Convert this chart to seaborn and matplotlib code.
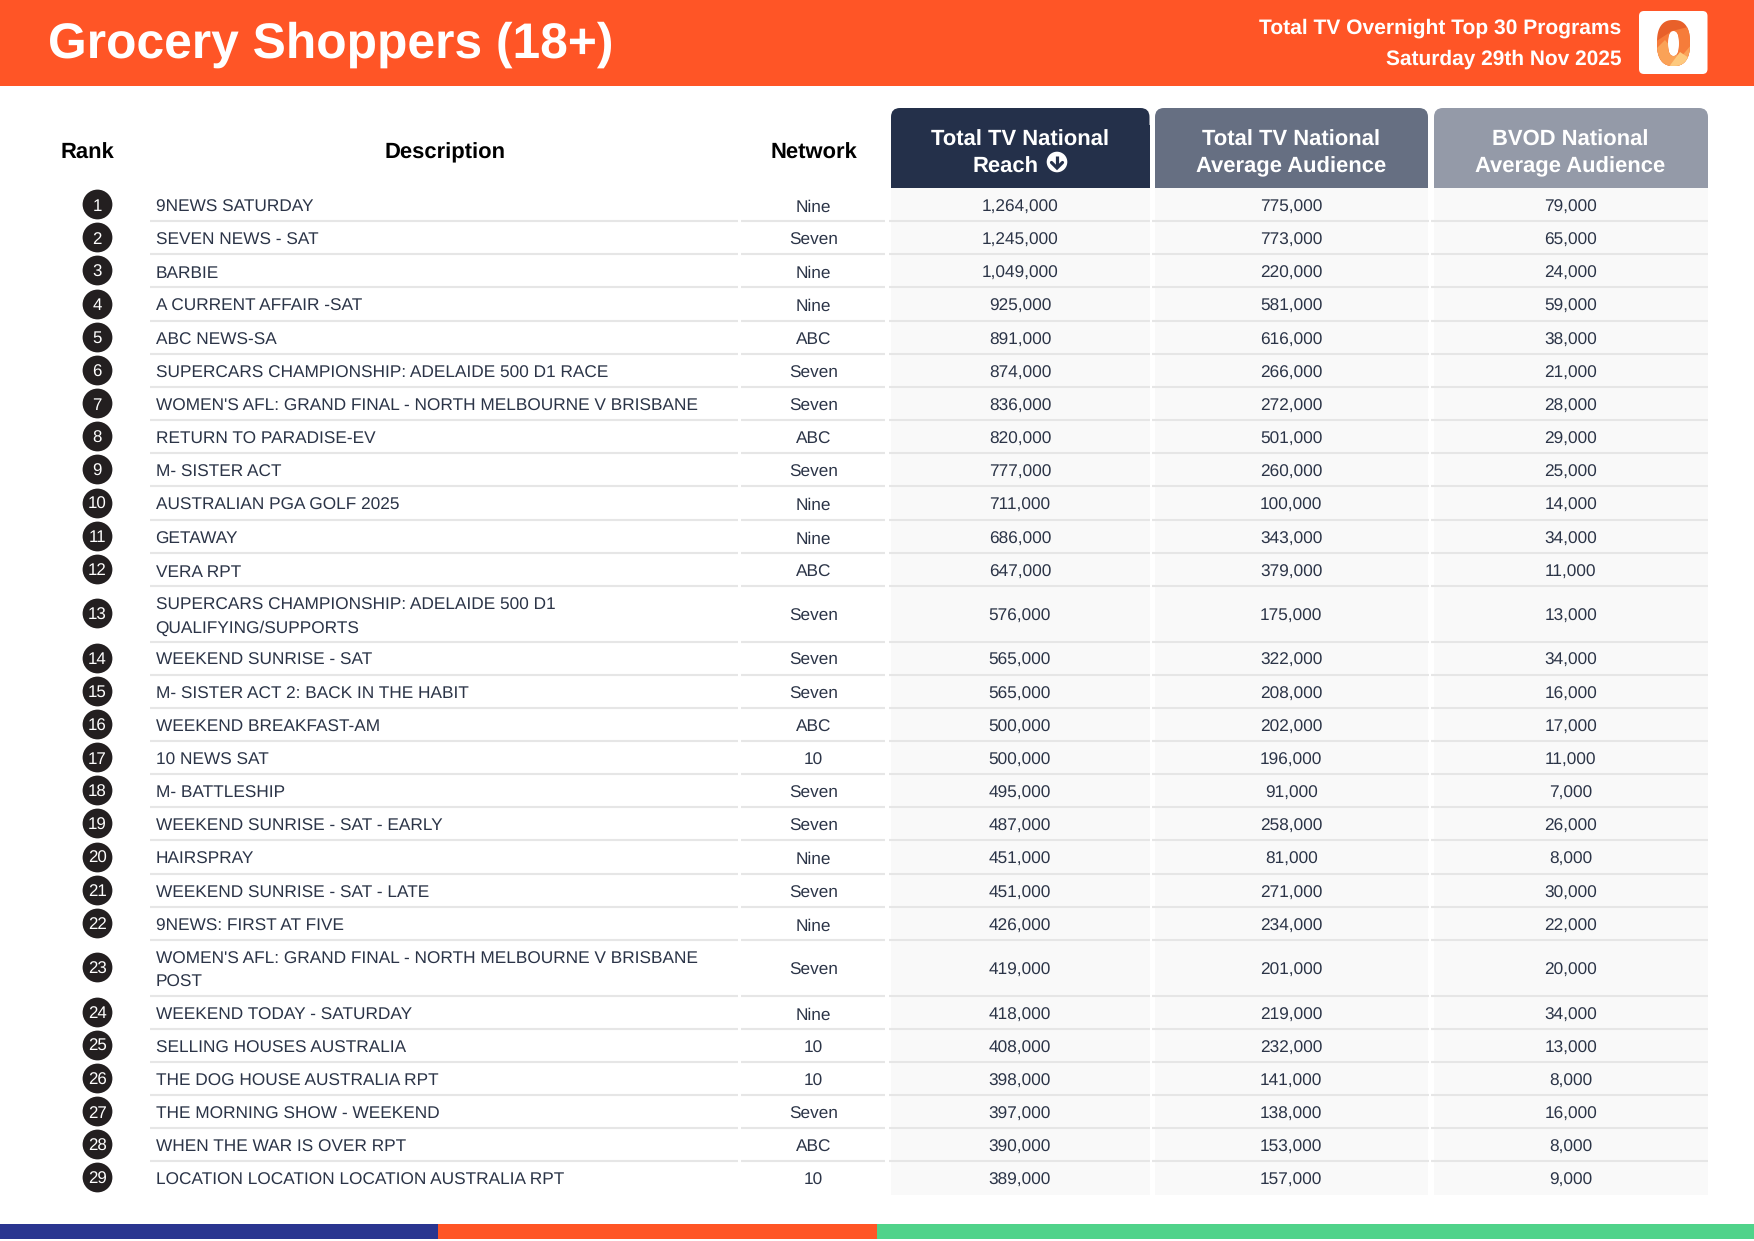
import numpy as np
import pandas as pd
import matplotlib
matplotlib.use('Agg')
import matplotlib.pyplot as plt
from matplotlib.patches import Circle, FancyBboxPatch, PathPatch, Polygon, Rectangle
from matplotlib.path import Path
import seaborn as sns

# ---- Data ----
descriptions = [
    "9NEWS SATURDAY", "SEVEN NEWS - SAT", "BARBIE", "A CURRENT AFFAIR -SAT", "ABC NEWS-SA",
    "SUPERCARS CHAMPIONSHIP: ADELAIDE 500 D1 RACE",
    "WOMEN'S AFL: GRAND FINAL - NORTH MELBOURNE V BRISBANE",
    "RETURN TO PARADISE-EV", "M- SISTER ACT", "AUSTRALIAN PGA GOLF 2025", "GETAWAY", "VERA RPT",
    "SUPERCARS CHAMPIONSHIP: ADELAIDE 500 D1\nQUALIFYING/SUPPORTS",
    "WEEKEND SUNRISE - SAT", "M- SISTER ACT 2: BACK IN THE HABIT", "WEEKEND BREAKFAST-AM",
    "10 NEWS SAT", "M- BATTLESHIP", "WEEKEND SUNRISE - SAT - EARLY", "HAIRSPRAY",
    "WEEKEND SUNRISE - SAT - LATE", "9NEWS: FIRST AT FIVE",
    "WOMEN'S AFL: GRAND FINAL - NORTH MELBOURNE V BRISBANE\nPOST",
    "WEEKEND TODAY - SATURDAY", "SELLING HOUSES AUSTRALIA", "THE DOG HOUSE AUSTRALIA RPT",
    "THE MORNING SHOW - WEEKEND", "WHEN THE WAR IS OVER RPT", "LOCATION LOCATION LOCATION AUSTRALIA RPT",
]
networks = [
    "Nine", "Seven", "Nine", "Nine", "ABC", "Seven", "Seven", "ABC", "Seven", "Nine", "Nine", "ABC",
    "Seven", "Seven", "Seven", "ABC", "10", "Seven", "Seven", "Nine", "Seven", "Nine", "Seven",
    "Nine", "10", "10", "Seven", "ABC", "10",
]
reach = [
    1264000, 1245000, 1049000, 925000, 891000, 874000, 836000, 820000, 777000, 711000, 686000, 647000,
    576000, 565000, 565000, 500000, 500000, 495000, 487000, 451000, 451000, 426000, 419000,
    418000, 408000, 398000, 397000, 390000, 389000,
]
avg_audience = [
    775000, 773000, 220000, 581000, 616000, 266000, 272000, 501000, 260000, 100000, 343000, 379000,
    175000, 322000, 208000, 202000, 196000, 91000, 258000, 81000, 271000, 234000, 201000,
    219000, 232000, 141000, 138000, 153000, 157000,
]
bvod_audience = [
    79000, 65000, 24000, 59000, 38000, 21000, 28000, 29000, 25000, 14000, 34000, 11000,
    13000, 34000, 16000, 17000, 11000, 7000, 26000, 8000, 30000, 22000, 20000,
    34000, 13000, 8000, 16000, 8000, 9000,
]
ranks = list(range(1, len(descriptions) + 1))

ORANGE = '#FF5526'
TEXT = '#2B3447'
RULE = '#E6E6E6'

# Layout is in pixels of the 1754x1241 page
ROW_TOP = 188.0
ROW_H = 33.16
ROW_H_TALL = 55.6
LINE_GAP = 22.8
CAP_BODY = 12.6
BODY_SIZE = 12.42

sns.set_theme(style='white')
plt.rcParams['font.family'] = ['Liberation Sans', 'DejaVu Sans']
plt.rcParams['text.hinting'] = 'no_hinting'

fig = plt.figure(figsize=(17.54, 12.41), dpi=100)
ax = fig.add_axes([0, 0, 1, 1])
ax.set_xlim(0, 1754)
ax.set_ylim(1241, 0)
ax.axis('off')

# Row geometry from the number of lines in each description
heights = np.array([ROW_H_TALL if '\n' in d else ROW_H for d in descriptions])
bottoms = ROW_TOP + np.cumsum(heights)
centers = bottoms - heights / 2

df = pd.DataFrame({
    'rank': ranks, 'description': descriptions, 'network': networks,
    'reach': reach, 'avg_audience': avg_audience, 'bvod_audience': bvod_audience,
    'y': centers - 0.5, 'x_rank': 97.2,
})

# ---- Header band ----
ax.add_patch(Rectangle((0, 0), 1754, 85.5, color=ORANGE, lw=0))
ax.text(47.5, 57.5, "Grocery Shoppers (18+)", color='white', fontsize=35.85, fontweight='bold', va='baseline')
ax.text(1621.5, 33.5, "Total TV Overnight Top 30 Programs", color='white', fontsize=15.15,
        fontweight='bold', ha='right', va='baseline')
ax.text(1621.5, 65, "Saturday 29th Nov 2025", color='white', fontsize=15.0,
        fontweight='bold', ha='right', va='baseline')

# ---- Logo ----
ax.add_patch(FancyBboxPatch((1639, 11), 68.5, 63, boxstyle='round,pad=0,rounding_size=5',
                            fc='white', ec='none'))
theta = np.linspace(0, 2 * np.pi, 120)
# rounded "0": superellipse rather than a plain ellipse
cos_t = np.sign(np.cos(theta)) * np.abs(np.cos(theta)) ** 0.8
sin_t = np.sign(np.sin(theta)) * np.abs(np.sin(theta)) ** 0.8
outer = np.c_[1673.5 + 16.5 * cos_t, 43 + 23 * sin_t]
inner = np.c_[1673.5 + 5.5 * cos_t[::-1], 43.5 + 12.5 * sin_t[::-1]]
ring = Path.make_compound_path(Path(outer), Path(inner))
ring_patch = PathPatch(ring, fc='#E8602A', ec='none')
ax.add_patch(ring_patch)
logo_parts = [
    ([(1655, 42), (1672, 31), (1692, 26), (1692, 68), (1655, 68)], '#F67C3A'),
    ([(1655, 50), (1665, 40), (1680, 58), (1692, 44), (1692, 68), (1655, 68)], '#FAA257'),
    ([(1668, 68), (1680, 52), (1692, 60), (1692, 68)], '#FDC97E'),
]
for pts, col in logo_parts:
    part = Polygon(pts, fc=col, ec='none')
    ax.add_patch(part)
    part.set_clip_path(ring, ax.transData)

# ---- Column headers ----
col_spans = [(891, 1149.5), (1155, 1428), (1434, 1708)]
col_colors = ['#24304A', '#666F82', '#949AA8']
col_titles = [("Total TV National", "Reach"),
              ("Total TV National", "Average Audience"),
              ("BVOD National", "Average Audience")]
col_keys = ['reach', 'avg_audience', 'bvod_audience']
table_bottom = bottoms[-1]

for (x0, x1), col, (line1, line2) in zip(col_spans, col_colors, col_titles):
    ax.add_patch(FancyBboxPatch((x0, 108), x1 - x0, 40, boxstyle='round,pad=0,rounding_size=9',
                                fc=col, ec='none'))
    ax.add_patch(Rectangle((x0, 125), x1 - x0, 63, color=col, lw=0))
    ax.add_patch(Rectangle((x0, ROW_TOP), x1 - x0, table_bottom - ROW_TOP, color='#F9F9F9', lw=0))
    xc = (x0 + x1) / 2 - 0.5
    ax.text(xc, 145.7, line1, color='white', fontsize=15.8, fontweight='bold', ha='center', va='baseline')
    # the sort icon pushes "Reach" left of the column centre
    ax.text(1006 if line2 == "Reach" else xc, 172.3, line2, color='white', fontsize=15.8,
            fontweight='bold', ha='center', va='baseline')

ax.add_patch(Circle((1057, 162), 10.3, fc='white', ec='none'))
ax.plot([1057, 1057], [156, 167], color=col_colors[0], lw=2.3, solid_capstyle='butt')
ax.plot([1051.5, 1057, 1062.5], [162.5, 168, 162.5], color=col_colors[0], lw=2.3, solid_joinstyle='miter')

for label, xc in [("Rank", 87.5), ("Description", 445.5), ("Network", 813.8)]:
    ax.text(xc, 158.8, label, color='black', fontsize=15.8, fontweight='bold', ha='center', va='baseline')

# ---- Row rules ----
rule_spans = [(150, 737.5), (740.5, 885), (888.5, 1150), (1152, 1429), (1431, 1708)]
for x0, x1 in rule_spans:
    ax.hlines(bottoms[:-1], x0, x1, color=RULE, lw=1.5)

# ---- Rank markers ----
sns.scatterplot(data=df, x='x_rank', y='y', s=460, color='#231F20', linewidth=0, legend=False, ax=ax)
ax.set_xlim(0, 1754)
ax.set_ylim(1241, 0)

# ---- Row text ----
for row in df.itertuples():
    base = row.y + 0.5 + CAP_BODY / 2 + 0.9
    ax.text(row.x_rank, base - 1.2, str(row.rank), color='white', fontsize=12.2, ha='center', va='baseline')
    lines = row.description.split('\n')
    for i, line in enumerate(lines):
        ax.text(155.5, base + (i - (len(lines) - 1) / 2) * LINE_GAP, line, color=TEXT, fontsize=BODY_SIZE,
                ha='left', va='baseline')
    ax.text(813.5, base, row.network, color=TEXT, fontsize=BODY_SIZE, ha='center', va='baseline')
    for (x0, x1), key in zip(col_spans, col_keys):
        ax.text((x0 + x1) / 2 - 0.3, base, f"{getattr(row, key):,}", color=TEXT, fontsize=BODY_SIZE,
                ha='center', va='baseline')

# ---- Footer bars ----
for x0, x1, col in [(0, 438, '#2A3590'), (438, 877, ORANGE), (877, 1754, '#50D38A')]:
    ax.add_patch(Rectangle((x0, 1224), x1 - x0, 15, color=col, lw=0))

fig.savefig('out.png', dpi=100)
plt.close(fig)
